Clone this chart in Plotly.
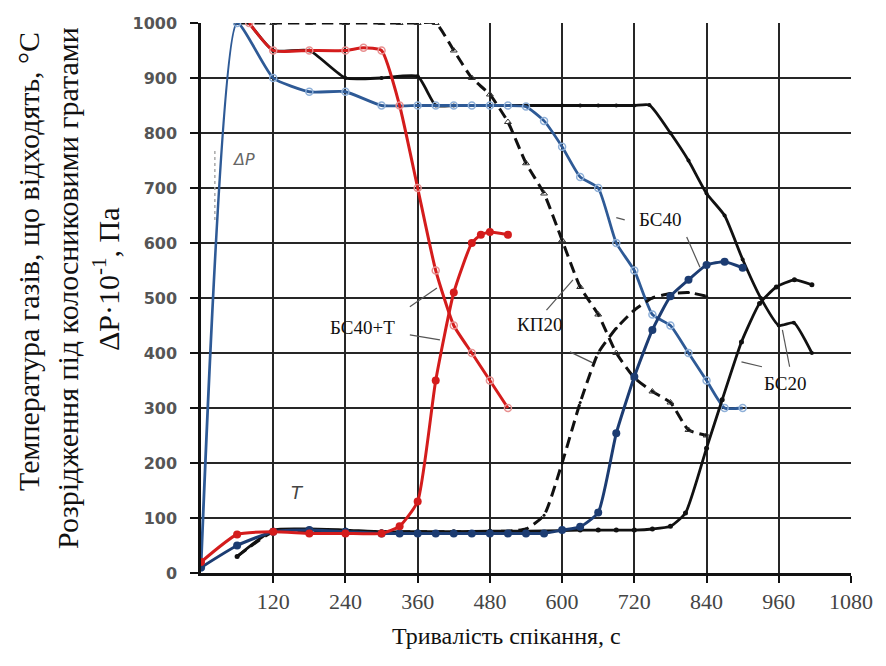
import plotly.graph_objects as go

# --- Розрідження під колосниковими гратами, ΔP·10^-1, Па ---
t_dp_bs40 = [0, 60, 120, 180, 240, 300, 360, 390, 420, 450, 480, 510, 540, 570, 600, 630, 660, 690, 720, 750, 780, 810, 840, 870, 900]
dp_bs40 = [10, 1000, 900, 875, 875, 850, 850, 850, 850, 850, 850, 850, 848, 822, 775, 720, 700, 600, 550, 470, 450, 400, 350, 300, 300]

t_dp_bs20 = [80, 120, 180, 240, 300, 360, 390, 420, 480, 540, 600, 630, 660, 690, 720, 745, 780, 810, 840, 870, 900, 930, 960, 985, 1015]
dp_bs20 = [1000, 950, 950, 900, 900, 903, 850, 850, 850, 850, 850, 850, 850, 850, 850, 851, 800, 750, 690, 650, 570, 500, 450, 455, 400]

t_dp_kp20 = [60, 120, 180, 240, 300, 330, 360, 390, 420, 450, 480, 510, 540, 570, 600, 630, 660, 690, 720, 750, 780, 810, 840]
dp_kp20 = [1000, 1000, 1000, 1000, 1000, 1000, 1000, 1000, 950, 900, 870, 820, 745, 690, 605, 520, 470, 400, 355, 330, 310, 260, 250]

t_dp_bs40t = [80, 120, 180, 240, 270, 300, 330, 360, 390, 420, 450, 480, 510]
dp_bs40t = [1000, 950, 950, 950, 955, 950, 850, 700, 550, 450, 400, 350, 300]

# --- Температура газів, що відходять, °С ---
t_T_bs40t = [0, 60, 120, 180, 240, 300, 330, 360, 390, 420, 450, 465, 480, 510]
T_bs40t = [20, 70, 75, 72, 72, 72, 85, 130, 350, 510, 600, 615, 620, 615]

t_T_bs40 = [0, 60, 120, 180, 240, 300, 330, 360, 390, 420, 450, 480, 510, 540, 570, 600, 630, 660, 690, 720, 750, 780, 810, 840, 870, 900]
T_bs40 = [10, 50, 75, 78, 75, 72, 72, 72, 72, 72, 72, 72, 72, 72, 72, 78, 84, 110, 254, 357, 442, 503, 533, 560, 566, 555]

t_T_bs20 = [60, 120, 180, 240, 300, 360, 420, 480, 540, 600, 630, 660, 690, 720, 750, 780, 805, 840, 866, 898, 928, 956, 986, 1015]
T_bs20 = [30, 78, 80, 78, 75, 75, 75, 76, 76, 77, 78, 78, 78, 78, 80, 85, 109, 227, 315, 420, 490, 520, 533, 524]

t_T_kp20 = [60, 120, 180, 240, 300, 360, 420, 480, 540, 570, 600, 630, 660, 690, 720, 750, 780, 810, 840]
T_kp20 = [30, 75, 75, 75, 75, 75, 75, 75, 80, 105, 200, 310, 400, 445, 478, 500, 508, 510, 503]

x_ticks = [120, 240, 360, 480, 600, 720, 840, 960, 1080]
y_ticks = [0, 100, 200, 300, 400, 500, 600, 700, 800, 900, 1000]

RED = "#d41c1c"
NAVY = "#1c3c72"
BLUE = "#2e5a96"
LIGHT_BLUE = "#8fb0d8"
LIGHT_RED = "#e89090"
BLACK = "#111111"
SERIF = "Liberation Serif, Times New Roman, serif"
LONG_DASH = "11px,6px"

fig = go.Figure()


def add(x, y, color, width=2.8, dash="solid", marker=None, smooth=0.5):
    fig.add_trace(go.Scatter(
        x=x, y=y, mode="lines+markers" if marker else "lines",
        line=dict(color=color, width=width, dash=dash, shape="spline", smoothing=smooth),
        marker=marker, showlegend=False, hoverinfo="skip",
    ))


# pressure curves
add(t_dp_kp20, dp_kp20, BLACK, width=3, dash=LONG_DASH,
    marker=dict(symbol="triangle-up-open", size=6, color="#333", line=dict(width=1)))
add(t_dp_bs20, dp_bs20, BLACK,
    marker=dict(symbol="circle", size=4, color=BLACK))
add(t_dp_bs40, dp_bs40, BLUE,
    marker=dict(symbol="circle-open", size=7, color=LIGHT_BLUE, line=dict(width=1.5)))
add(t_dp_bs40t, dp_bs40t, RED, width=3,
    marker=dict(symbol="circle-open", size=7, color=LIGHT_RED, line=dict(width=1.5)))

# gas temperature curves
add(t_T_kp20, T_kp20, BLACK, width=3, dash=LONG_DASH,
    marker=dict(symbol="circle", size=3, color=BLACK))
add(t_T_bs20, T_bs20, BLACK,
    marker=dict(symbol="circle", size=5, color=BLACK))
add(t_T_bs40, T_bs40, NAVY, width=3,
    marker=dict(symbol="circle", size=8, color=NAVY))
add(t_T_bs40t, T_bs40t, RED, width=3,
    marker=dict(symbol="circle", size=8, color=RED))

# labels of the curves
labels = [
    ("БС40+Т", 269, 447),
    ("КП20", 562, 451),
    ("БС40", 762, 642),
    ("БС20", 970, 345),
]
for text, x, y in labels:
    fig.add_annotation(x=x, y=y, text=text, showarrow=False,
                       font=dict(family=SERIF, size=19, color="#111"))

leaders = [
    ((347, 484), (392, 518)),
    ((347, 433), (397, 424)),
    ((574, 478), (618, 533)),
    ((613, 402), (651, 382)),
    ((704, 642), (690, 646)),
    ((807, 611), (829, 556)),
    ((932, 375), (898, 384)),
    ((978, 375), (966, 442)),
]
for (x0, y0), (x1, y1) in leaders:
    fig.add_shape(type="line", x0=x0, y0=y0, x1=x1, y1=y1,
                  line=dict(color="#555", width=1.2))

# ΔP and T markers
fig.add_annotation(x=71, y=751, text="<i>ΔP</i>", showarrow=False,
                   font=dict(family="DejaVu Sans, Arial", size=16, color="#666"))
fig.add_shape(type="line", x0=23, y0=642, x1=23, y1=769,
              line=dict(color="#aaa", width=1.5, dash="dot"))
fig.add_annotation(x=160, y=147, text="<i>T</i>", showarrow=False,
                   font=dict(family="DejaVu Sans, Arial", size=18, color="#444"))

# axis titles
fig.add_annotation(xref="paper", yref="paper", x=0.47, y=-0.088, yanchor="top",
                   text="Тривалість спікання, с", showarrow=False,
                   font=dict(family=SERIF, size=24, color="#111"))
y_title_lines = [
    ("Температура газів, що відходять, °С", 28, 262),
    ("Розрідження під колосниковими гратами", 67, 288),
    ("ΔP·10<sup>-1</sup>, Па", 106, 280),
]
for text, px, py in y_title_lines:
    fig.add_annotation(xref="paper", yref="paper",
                       x=(px - 201) / 650, y=(573 - py) / 550,
                       xanchor="center", yanchor="middle",
                       text=text, textangle=-90, showarrow=False,
                       font=dict(family=SERIF, size=30, color="#111"))

fig.update_layout(
    width=886, height=666,
    margin=dict(l=201, r=35, t=23, b=93),
    paper_bgcolor="white", plot_bgcolor="white",
    xaxis=dict(range=[0, 1080], tickvals=x_ticks, ticktext=[str(v) for v in x_ticks],
               showgrid=True, gridcolor="#262626", gridwidth=2.2,
               showline=True, linecolor="#111", linewidth=2.5, mirror=False,
               ticks="outside", ticklen=7, tickwidth=2, tickcolor="#111",
               tickfont=dict(family=SERIF, size=22, color="#444"), zeroline=False),
    yaxis=dict(range=[0, 1000], tickvals=y_ticks,
               showgrid=True, gridcolor="#262626", gridwidth=2.2,
               showline=True, linecolor="#111", linewidth=2.5,
               ticks="outside", ticklen=8, tickwidth=2, tickcolor="#111",
               ticklabelstandoff=10,
               tickfont=dict(family="DejaVu Sans, Verdana", size=16, color="#555", weight="bold"),
               zeroline=False),
)

fig.write_html("out.html")
